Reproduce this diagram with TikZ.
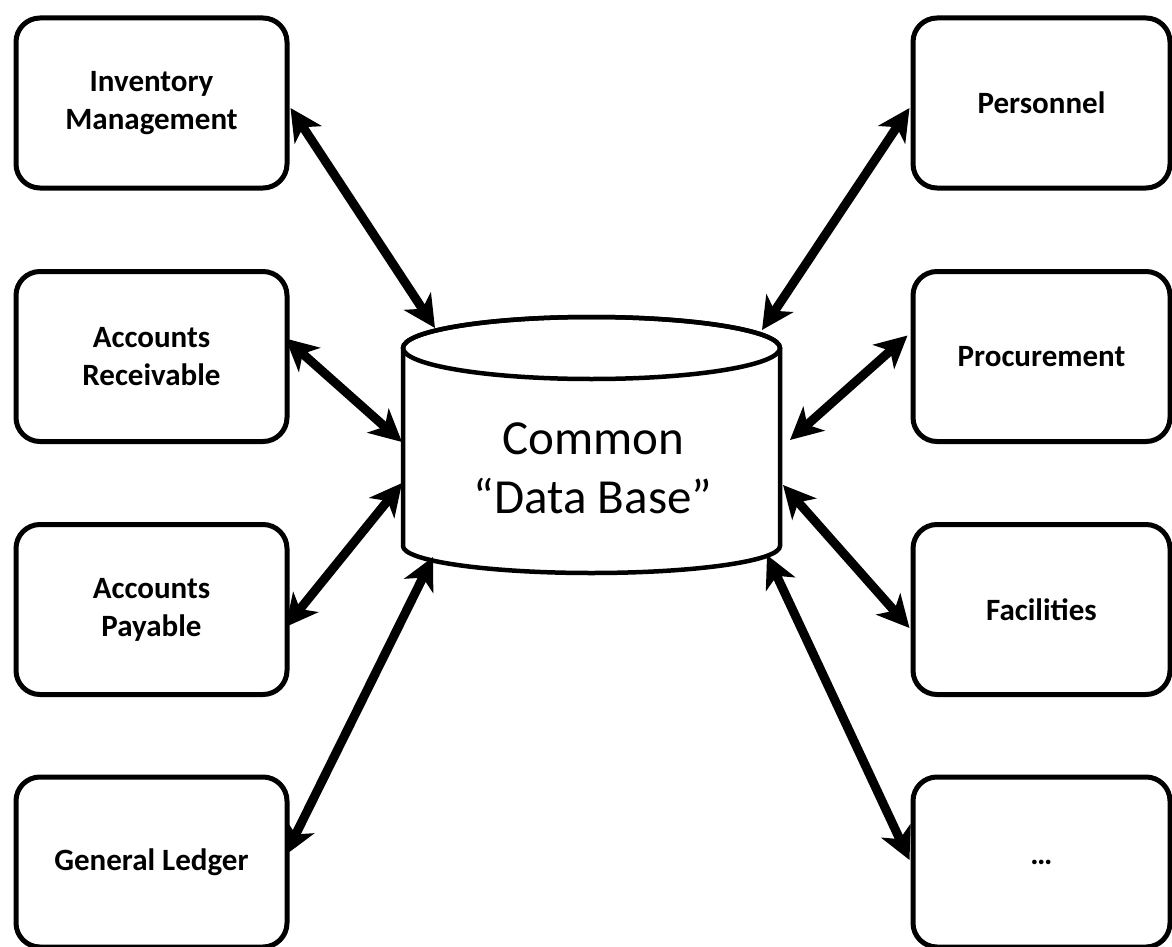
\documentclass[tikz,border=0pt]{standalone}
\usepackage{fontspec}
\setmainfont{Carlito}
\usetikzlibrary{arrows.meta,calc}
\begin{document}
\begin{tikzpicture}[x=1pt,y=-1pt,
  box/.style={draw, line width=5pt, rounded corners=24pt, minimum width=271pt, minimum height=170pt,
    align=center, font=\bfseries\fontsize{31}{38}\selectfont, inner sep=0pt, fill=white},
  rbox/.style={box, minimum width=257pt},
  link/.style={line width=9pt, {Stealth[length=32pt,width=32pt,inset=9pt]}-{Stealth[length=32pt,width=32pt,inset=9pt]}}]
\useasboundingbox (0,0) rectangle (1172,947);
% left boxes
\node[box] (inv) at (151.5,103) {Inventory\\Management};
\node[box] (ar)  at (151.5,356.5) {Accounts\\Receivable};
\node[box] (ap)  at (151.5,609.5) {Accounts\\Payable};
\node[box] (gl)  at (151.5,862) {General Ledger};
% right boxes
\node[rbox] (pers) at (1041.5,103) {Personnel};
\node[rbox] (proc) at (1041.5,356.5) {Procurement};
\node[rbox] (fac)  at (1041.5,609.5) {Facilities};
\node[rbox] (etc)  at (1041.5,862) {…};
% cylinder
\draw[line width=4.5pt, fill=white] (403,348) -- (403,546)
  arc[start angle=180, end angle=0, x radius=188.5, y radius=27] -- (780,348)
  arc[start angle=0, end angle=-180, x radius=188.5, y radius=31] -- cycle;
\draw[line width=4.5pt] (591.5,348) ellipse[x radius=188.5, y radius=31];
\node[font=\fontsize{49}{59}\selectfont, align=center] (db) at (593,468) {Common\\“Data Base”};
% connector ends on the data base
\coordinate (c1) at (435,328);
\coordinate (c2) at (402,442);
\coordinate (c3) at (402,483);
\coordinate (c4) at (433,557);
\coordinate (c5) at (762,330);
\coordinate (c6) at (790,440);
\coordinate (c7) at (783,485);
\coordinate (c8) at (767,555);
% connectors
\draw[link] ($(inv.east)+(1,5)$) -- (c1);
\draw[link] ($(ar.east)+(-4,-18)$) -- (c2);
\draw[link] ($(ap.east)+(-4,17.5)$) -- (c3);
\draw[link] ($(gl.east)+(-4,-7)$) -- (c4);
\draw[link] ($(pers.west)+(-1,5)$) -- (c5);
\draw[link] ($(proc.west)+(-3,-21)$) -- (c6);
\draw[link] ($(fac.west)+(-1,18.5)$) -- (c7);
\draw[link] ($(etc.west)+(-1,-2)$) -- (c8);
\end{tikzpicture}
\end{document}
